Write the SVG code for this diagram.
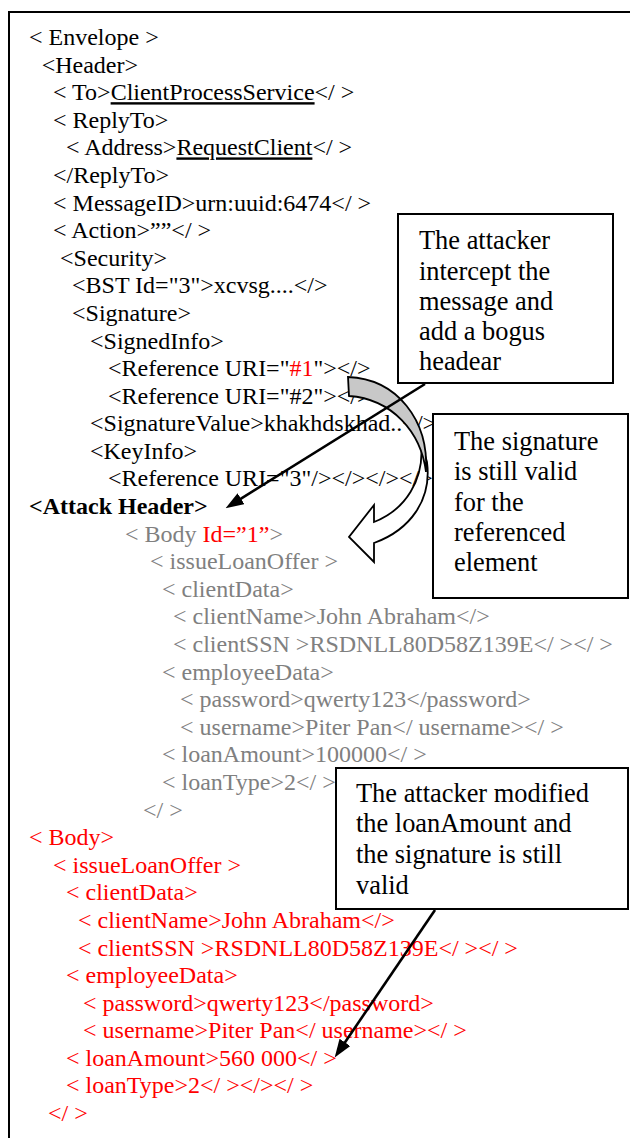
<svg xmlns="http://www.w3.org/2000/svg" width="630" height="1138" viewBox="0 0 630 1138">
<style>
  text { font-family: "Liberation Serif", "Times New Roman", serif; font-size: 24px; fill: #000; white-space: pre; }
  .g { fill: #808080; }
  .r { fill: #ff0000; }
  .b { font-weight: bold; }
  .u { text-decoration: underline; }
  .note { font-size: 26.4px; }
  .box { fill: #fff; stroke: #000; stroke-width: 2; }
  .conn { stroke: #000; stroke-width: 2.6; fill: none; marker-end: url(#ah); }
  .frame { fill: none; stroke: #000; stroke-width: 2; }
</style>
<defs>
  <marker id="ah" viewBox="0 0 14 10" refX="4" refY="5" markerWidth="7" markerHeight="5" orient="auto" markerUnits="strokeWidth">
    <path d="M0,0 L14,5 L0,10 z" fill="#000"/>
  </marker>
</defs>
<rect width="630" height="1138" fill="#fff"/>
<path class="frame" d="M9,1138 V12 H630"/>

<g id="xml-listing">
  <text x="29" y="45">&lt; Envelope &gt;</text>
  <text x="41.7" y="72.6">&lt;Header&gt;</text>
  <text x="53" y="100.2">&lt; To&gt;<tspan class="u">ClientProcessService</tspan>&lt;/ &gt;</text>
  <text x="53" y="127.8">&lt; ReplyTo&gt;</text>
  <text x="66" y="155.4">&lt; Address&gt;<tspan class="u">RequestClient</tspan>&lt;/ &gt;</text>
  <text x="53" y="182.9">&lt;/ReplyTo&gt;</text>
  <text x="53" y="210.5">&lt; MessageID&gt;urn:uuid:6474&lt;/ &gt;</text>
  <text x="53" y="238.1">&lt; Action&gt;””&lt;/ &gt;</text>
  <text x="60" y="265.7">&lt;Security&gt;</text>
  <text x="72" y="293.3">&lt;BST Id="3"&gt;xcvsg....&lt;/&gt;</text>
  <text x="72" y="320.9">&lt;Signature&gt;</text>
  <text x="90" y="348.5">&lt;SignedInfo&gt;</text>
  <text x="108" y="376.1">&lt;Reference URI="<tspan class="r">#1</tspan>"&gt;&lt;/&gt;</text>
  <text x="108" y="403.7">&lt;Reference URI="#2"&gt;&lt;/&gt;</text>
  <text x="90" y="431.3">&lt;SignatureValue&gt;khakhdskhad..&lt;/&gt;</text>
  <text x="90" y="458.9">&lt;KeyInfo&gt;</text>
  <text x="108" y="486.4">&lt;Reference URI="3"/&gt;&lt;/&gt;&lt;/&gt;&lt;/&gt;</text>
  <text class="b" x="29" y="514">&lt;Attack Header&gt;</text>

  <text class="g" x="125" y="541.6">&lt; Body <tspan class="r">Id=”1”</tspan>&gt;</text>
  <text class="g" x="150" y="569.2">&lt; issueLoanOffer &gt;</text>
  <text class="g" x="162" y="596.8">&lt; clientData&gt;</text>
  <text class="g" x="173" y="624.4">&lt; clientName&gt;John Abraham&lt;/&gt;</text>
  <text class="g" x="173" y="652">&lt; clientSSN &gt;RSDNLL80D58Z139E&lt;/ &gt;&lt;/ &gt;</text>
  <text class="g" x="162" y="679.6">&lt; employeeData&gt;</text>
  <text class="g" x="180" y="707.2">&lt; password&gt;qwerty123&lt;/password&gt;</text>
  <text class="g" x="180" y="734.8">&lt; username&gt;Piter Pan&lt;/ username&gt;&lt;/ &gt;</text>
  <text class="g" x="162" y="762.3">&lt; loanAmount&gt;100000&lt;/ &gt;</text>
  <text class="g" x="162" y="789.9">&lt; loanType&gt;2&lt;/ &gt;</text>
  <text class="g" x="143" y="817.5">&lt;/ &gt;</text>

  <text class="r" x="29" y="845.1">&lt; Body&gt;</text>
  <text class="r" x="53" y="872.7">&lt; issueLoanOffer &gt;</text>
  <text class="r" x="66" y="900.3">&lt; clientData&gt;</text>
  <text class="r" x="78" y="927.9">&lt; clientName&gt;John Abraham&lt;/&gt;</text>
  <text class="r" x="78" y="955.5">&lt; clientSSN &gt;RSDNLL80D58Z139E&lt;/ &gt;&lt;/ &gt;</text>
  <text class="r" x="66" y="983.1">&lt; employeeData&gt;</text>
  <text class="r" x="83" y="1010.7">&lt; password&gt;qwerty123&lt;/password&gt;</text>
  <text class="r" x="83" y="1038.2">&lt; username&gt;Piter Pan&lt;/ username&gt;&lt;/ &gt;</text>
  <text class="r" x="66" y="1065.8">&lt; loanAmount&gt;560 000&lt;/ &gt;</text>
  <text class="r" x="66" y="1093.4">&lt; loanType&gt;2&lt;/ &gt;&lt;/&gt;&lt;/ &gt;</text>
  <text class="r" x="48" y="1121">&lt;/ &gt;</text>
</g>

<g id="curved-arrow" stroke="#000" stroke-width="1.8" stroke-linejoin="miter">
  <path fill="#fff" d="M421,442 C425,480 405,510 374,522 L374,505 L349,537 L374,562 L374,543 C410,530 432,500 427,462 Z"/>
  <path fill="#c8c8c8" d="M348,377 L349,396 C392,399 421,432 426,472 C429,420 397,379 348,377 Z"/>
</g>

<g id="note-attacker-header">
  <rect class="box" x="398" y="214" width="215" height="169"/>
  <text class="note" x="419" y="249">The attacker</text>
  <text class="note" x="419" y="279.5">intercept the</text>
  <text class="note" x="419" y="310">message and</text>
  <text class="note" x="419" y="340">add a bogus</text>
  <text class="note" x="419" y="370">headear</text>
</g>

<g id="note-signature-valid">
  <rect class="box" x="433" y="414" width="195" height="184"/>
  <text class="note" x="454" y="450">The signature</text>
  <text class="note" x="454" y="480.3">is still valid</text>
  <text class="note" x="454" y="510.6">for the</text>
  <text class="note" x="454" y="541">referenced</text>
  <text class="note" x="454" y="571.3">element</text>
</g>

<g id="note-loan-modified">
  <rect class="box" x="336" y="768" width="292" height="141"/>
  <text class="note" x="356" y="801.7">The attacker modified</text>
  <text class="note" x="356" y="832.4">the loanAmount and</text>
  <text class="note" x="356" y="863.1">the signature is still</text>
  <text class="note" x="356" y="893.8">valid</text>
</g>

<g id="connectors">
  <line class="conn" x1="425" y1="384" x2="236.6" y2="501.4"/>
  <line class="conn" x1="435" y1="910" x2="342" y2="1046.7"/>
</g>
</svg>
